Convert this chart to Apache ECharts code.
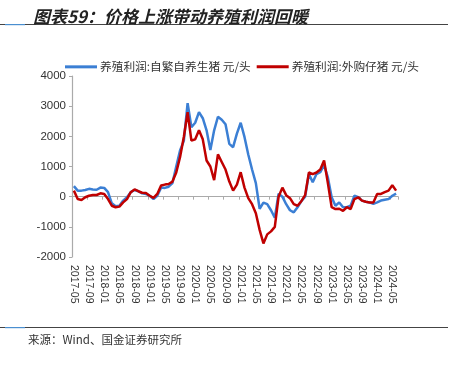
<!DOCTYPE html>
<html><head><meta charset="utf-8">
<script src="https://cdn.jsdelivr.net/npm/echarts@6/dist/echarts.min.js"></script>
<style>html,body{margin:0;padding:0;background:#fff}#c{width:451px;height:367px}</style>
</head><body><div id="c"></div>
<script>
// Monthly categories 2017-05 .. 2024-06
const months = [];
for (let y = 2017, m = 5; !(y === 2024 && m === 7); ) {
  months.push(y + '-' + String(m).padStart(2, '0'));
  m++; if (m > 12) { m = 1; y++; }
}
const seriesNames = ['养殖利润:自繁自养生猪 元/头', '养殖利润:外购仔猪 元/头'];
const selfBred = [350,200,200,220,260,240,230,300,290,150,-220,-320,-300,-130,-20,150,220,180,110,90,30,-80,30,300,290,330,450,1000,1530,1850,3100,2300,2450,2800,2600,2200,1550,2200,2650,2550,2400,1750,1640,2090,2450,1980,1400,900,450,-400,-200,-250,-450,-700,100,0,-250,-450,-520,-350,-150,0,750,480,750,810,1050,640,-20,-300,-190,-350,-350,-300,30,-20,-130,-170,-190,-240,-190,-130,-100,-80,30,100];
const purchased = [200,-80,-110,-20,30,55,55,110,90,-80,-300,-350,-330,-190,-80,150,240,180,130,120,30,-40,90,370,400,420,500,800,1310,1980,2800,1860,1900,2200,1900,1200,1000,550,1400,1150,900,500,200,400,810,300,-50,-250,-550,-1100,-1550,-1250,-1150,-1000,0,300,50,-50,-250,-300,-150,50,800,750,800,900,1200,450,-350,-410,-400,-470,-350,-410,-80,-20,-130,-170,-190,-190,90,90,150,200,380,200];
const yTicks = {min: -2000, max: 4000, interval: 1000};

const chart = echarts.init(document.getElementById('c'));
chart.setOption({
  animation: false,
  title: {
    text: '图表59：价格上涨带动养殖利润回暖',
    left: 28, top: 3,
    textStyle: {fontFamily: 'Noto Sans CJK SC', fontSize: 17, fontWeight: 'bold', fontStyle: 'italic', color: '#222'}
  },
  graphic: [
    {type: 'rect', shape: {x: 0, y: 24, width: 448, height: 1}, style: {fill: '#444'}},
    {type: 'rect', shape: {x: 5, y: 24, width: 20, height: 1.2}, style: {fill: '#4a8fd0'}},
    {type: 'rect', shape: {x: 0, y: 327, width: 448, height: 1}, style: {fill: '#444'}},
    {type: 'rect', shape: {x: 5, y: 327, width: 20, height: 1.2}, style: {fill: '#4a8fd0'}},
    {type: 'text', left: 28, top: 334, style: {text: '来源：Wind、国金证券研究所', fontFamily: 'Noto Sans CJK SC', fontSize: 11.5, fill: '#333'}}
  ],
  legend: {
    top: 56, left: 60, itemGap: 6, itemWidth: 32, itemHeight: 3,
    icon: 'rect',
    textStyle: {fontFamily: 'Noto Sans CJK SC', fontSize: 11.7, color: '#333', padding: [0,0,0,-2]},
    data: seriesNames
  },
  grid: {left: 72, top: 76, right: 53, bottom: 110},
  xAxis: [{
    type: 'category', data: months, boundaryGap: true,
    axisLine: {show: false, onZero: false},
    axisTick: {show: false},
    axisLabel: {interval: 3, rotate: -90, margin: 8, fontFamily: 'Liberation Sans', fontSize: 10.5, color: '#333'}
  }, {
    type: 'category', data: months, boundaryGap: true, position: 'bottom',
    axisLine: {show: true, onZero: true, lineStyle: {color: '#aaa', width: 1.2}},
    axisTick: {show: true, interval: 3, length: 3, lineStyle: {color: '#aaa'}},
    axisLabel: {show: false}
  }],
  yAxis: {
    type: 'value', min: yTicks.min, max: yTicks.max, interval: yTicks.interval,
    splitLine: {show: false},
    axisLine: {show: true, lineStyle: {color: '#aaa', width: 1.2}},
    axisTick: {show: true, length: 3, lineStyle: {color: '#aaa'}},
    axisLabel: {fontFamily: 'Liberation Sans', fontSize: 11.5, color: '#333', margin: 6,
                formatter: v => String(v)}
  },
  series: [
    {name: seriesNames[0], type: 'line', data: selfBred, showSymbol: false, symbol: 'none',
     lineStyle: {color: '#3b7fd4', width: 2.5}, itemStyle: {color: '#3b7fd4'}},
    {name: seriesNames[1], type: 'line', data: purchased, showSymbol: false, symbol: 'none',
     lineStyle: {color: '#c00000', width: 2.5}, itemStyle: {color: '#c00000'}}
  ]
});
</script></body></html>
